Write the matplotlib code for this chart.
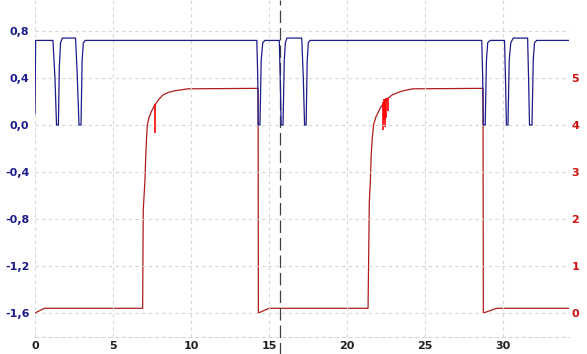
import matplotlib
matplotlib.use('Agg')
import matplotlib.pyplot as plt

# blue trace (left axis)
blue_t = [0.0, 0.04, 1.15, 1.28, 1.38, 1.50, 1.56, 1.64, 1.75,
          2.60, 2.70, 2.82, 2.95, 3.02, 3.10, 3.22,
          14.22, 14.28, 14.31, 14.42, 14.50, 14.60, 14.74,
          15.66, 15.72, 15.78, 15.90, 15.98, 16.05, 16.15,
          17.10, 17.20, 17.28, 17.38, 17.45, 17.52, 17.63,
          28.64, 28.70, 28.74, 28.86, 28.94, 29.02, 29.17,
          30.10, 30.16, 30.22, 30.32, 30.40, 30.50, 30.66,
          31.58, 31.64, 31.70, 31.86, 31.94, 32.02, 32.16, 34.19]
blue_v = [0.10, 0.72, 0.72, 0.40, 0.0, 0.0, 0.50, 0.70, 0.74,
          0.74, 0.45, 0.0, 0.0, 0.55, 0.70, 0.72,
          0.72, 0.40, 0.0, 0.0, 0.55, 0.70, 0.72,
          0.72, 0.40, 0.0, 0.0, 0.55, 0.70, 0.74,
          0.74, 0.40, 0.0, 0.0, 0.55, 0.70, 0.72,
          0.72, 0.40, 0.0, 0.0, 0.55, 0.70, 0.72,
          0.72, 0.40, 0.0, 0.0, 0.55, 0.70, 0.74,
          0.74, 0.40, 0.0, 0.0, 0.55, 0.70, 0.72, 0.72]

# red trace (right axis)
red_t = [0.0, 0.6, 6.90, 6.92, 6.94, 7.05, 7.10, 7.15, 7.2, 7.3, 7.45, 7.69,
         7.95, 8.2, 8.6, 9.0, 9.8,
         14.3, 14.32, 15.0, 21.35, 21.37, 21.43, 21.5, 21.55, 21.62, 21.7,
         21.85, 22.2, 22.55, 22.9, 23.5, 24.2, 28.72, 28.74, 29.6, 34.19]
red_v = [0.0, 0.1, 0.1, 1.2, 2.2, 2.83, 3.35, 3.72, 4.0, 4.15, 4.28, 4.43,
         4.55, 4.64, 4.70, 4.73, 4.77,
         4.78, 0.0, 0.1, 0.1, 0.64, 2.36, 2.83, 3.35, 3.72, 4.0,
         4.17, 4.4, 4.55, 4.64, 4.72, 4.77, 4.78, 0.0, 0.1, 0.1]

# red glitches
spike_t = [7.72, 22.30, 22.38, 22.45, 22.52, 22.60]
spike_lo = [3.83, 3.90, 4.10, 3.95, 4.15, 4.30]
spike_hi = [4.45, 4.50, 4.55, 4.55, 4.57, 4.57]

cursor_t = 15.7

x_ticks = [0, 5, 10, 15, 20, 25, 30]
left_ticks = [-1.6, -1.2, -0.8, -0.4, 0.0, 0.4, 0.8]
left_labels = ['-1,6', '-1,2', '-0,8', '-0,4', '0,0', '0,4', '0,8']
right_ticks = [0, 1, 2, 3, 4, 5]

navy = '#1c1c8a'
red = '#b01c1c'
grid_c = '#d6d6d6'

fig = plt.figure(figsize=(5.87, 3.54), dpi=100)
ax = fig.add_axes([35/587, 17.5/354, (568.5-35)/587, 336.5/354])
ax2 = ax.twinx()

ax.set_xlim(0, 34.2)
ax.set_ylim(-1.8, 1.064)
ax2.set_ylim(-0.5, 6.66)

ax.set_xticks(x_ticks)
ax.set_xticklabels([str(t) for t in x_ticks])
ax.set_yticks(left_ticks)
ax.set_yticklabels(left_labels)
ax2.set_yticks(right_ticks)
ax2.set_yticklabels([str(t) for t in right_ticks])

ax.grid(True, color=grid_c, linestyle=(0, (3, 3)), linewidth=0.8)
for a in (ax, ax2):
    for s in a.spines.values():
        s.set_visible(False)
ax.spines['bottom'].set_visible(True)
ax.spines['bottom'].set_color(grid_c)
ax.spines['bottom'].set_linestyle((0, (3, 3)))
ax.spines['bottom'].set_linewidth(0.8)

ax.tick_params(axis='x', length=0, pad=3, labelsize=8, colors='#202020')
ax.tick_params(axis='y', length=0, pad=4, labelsize=8, colors=navy)
ax2.tick_params(axis='y', length=0, pad=2, labelsize=8, colors='#d01010')
for lab in ax.get_xticklabels() + ax.get_yticklabels() + ax2.get_yticklabels():
    lab.set_fontweight('bold')

ax2.plot(red_t, red_v, color=red, linewidth=0.9)
ax2.vlines(spike_t, spike_lo, spike_hi, color='#ff0000', linewidth=1.2)
ax.plot(blue_t, blue_v, color=navy, linewidth=0.9, zorder=5)
ax.set_zorder(ax2.get_zorder() + 1)
ax.patch.set_visible(False)

ax.axvline(cursor_t, ymin=-0.06, ymax=1, color='#404040', linewidth=0.9,
           linestyle=(0, (10, 4)), clip_on=False)

fig.savefig('out.png', dpi=100)
